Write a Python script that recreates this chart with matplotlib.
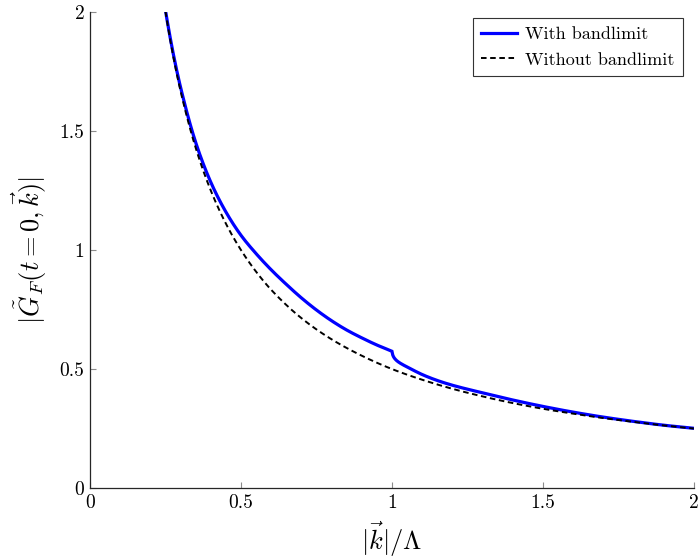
import numpy as np
import matplotlib
matplotlib.use("Agg")
import matplotlib.pyplot as plt

plt.rcParams["font.family"] = "serif"
plt.rcParams["font.serif"] = ["cmr10"]
plt.rcParams["mathtext.fontset"] = "cm"
plt.rcParams["axes.formatter.use_mathtext"] = True
plt.rcParams["lines.scale_dashes"] = False

# |k|/Lambda and propagator magnitude with the bandlimit (below and above the cutoff)
k_below = [0.245, 0.25, 0.275, 0.30, 0.35, 0.40, 0.45, 0.50, 0.55, 0.60, 0.65,
           0.70, 0.75, 0.80, 0.85, 0.90, 0.95, 1.00]
g_below = [2.045, 2.005, 1.829, 1.683, 1.452, 1.285, 1.160, 1.062, 0.985, 0.917, 0.856,
           0.799, 0.748, 0.703, 0.664, 0.631, 0.601, 0.575]
k_above = [1.00, 1.002, 1.006, 1.012, 1.02, 1.035, 1.05, 1.10, 1.15, 1.20, 1.30,
           1.40, 1.50, 1.60, 1.70, 1.80, 1.90, 2.00]
g_above = [0.575, 0.562, 0.550, 0.540, 0.531, 0.519, 0.509, 0.477, 0.452, 0.432, 0.400,
           0.370, 0.343, 0.319, 0.298, 0.280, 0.264, 0.251]

# without the bandlimit
k_free = [0.245, 0.25, 0.275, 0.30, 0.35, 0.40, 0.45, 0.50, 0.55, 0.60, 0.70,
          0.80, 0.90, 1.00, 1.10, 1.20, 1.30, 1.40, 1.50, 1.60, 1.70, 1.80,
          1.90, 2.00]
g_free = [2.041, 2.0, 1.818, 1.667, 1.429, 1.25, 1.111, 1.0, 0.909, 0.833, 0.714,
          0.625, 0.556, 0.5, 0.455, 0.417, 0.385, 0.357, 0.333, 0.3125, 0.294, 0.278,
          0.263, 0.25]

xticks = [0, 0.5, 1, 1.5, 2]
xtick_labels = ["0", "0.5", "1", "1.5", "2"]
yticks = [0, 0.5, 1, 1.5, 2]
ytick_labels = ["0", "0.5", "1", "1.5", "2"]


def pchip(xs, ys, n=30):
    """monotone cubic through the points so the curve has no corners"""
    x = np.asarray(xs, float)
    y = np.asarray(ys, float)
    h = np.diff(x)
    d = np.diff(y) / h
    m = np.zeros_like(x)
    m[0], m[-1] = d[0], d[-1]
    for i in range(1, len(x) - 1):
        if d[i - 1] * d[i] > 0:
            w1 = 2 * h[i] + h[i - 1]
            w2 = h[i] + 2 * h[i - 1]
            m[i] = (w1 + w2) / (w1 / d[i - 1] + w2 / d[i])
    px, py = [], []
    for i in range(len(x) - 1):
        t = np.linspace(0, 1, n, endpoint=False)
        h00 = 2 * t**3 - 3 * t**2 + 1
        h10 = t**3 - 2 * t**2 + t
        h01 = -2 * t**3 + 3 * t**2
        h11 = t**3 - t**2
        px.append(x[i] + t * h[i])
        py.append(h00 * y[i] + h10 * h[i] * m[i] + h01 * y[i + 1] + h11 * h[i] * m[i + 1])
    px.append([x[-1]])
    py.append([y[-1]])
    return np.concatenate(px), np.concatenate(py)


xb, yb = pchip(k_below, g_below)
xa, ya = pchip(k_above, g_above)
xf, yf = pchip(k_free, g_free)

fig = plt.figure(figsize=(6.98, 5.58), dpi=100)
ax = fig.add_axes([0.129, 0.1254, 0.865, 0.853])

ax.plot(np.concatenate([xb, xa]), np.concatenate([yb, ya]), color=(0, 0, 1), lw=2.3,
        solid_joinstyle="miter", label="With bandlimit", zorder=2)
ax.plot(xf, yf, color="k", lw=1.4, linestyle=(0, (4, 2.6)),
        label="Without bandlimit", zorder=3)

ax.set_xlim(0, 2)
ax.set_ylim(0, 2)
ax.set_xticks(xticks)
ax.set_xticklabels(xtick_labels)
ax.set_yticks(yticks)
ax.set_yticklabels(ytick_labels)
ax.tick_params(direction="in", length=4.5, width=0.8, color="0.55",
               labelsize=14, pad=4)

for side in ["top", "right"]:
    ax.spines[side].set_visible(False)
for side in ["left", "bottom"]:
    ax.spines[side].set_color("0.15")
    ax.spines[side].set_linewidth(0.9)

ax.set_xlabel(r"$|\vec{k}|/\Lambda$", fontsize=19, labelpad=6)
ax.set_ylabel(r"$|\tilde{G}_F(t=0,\vec{k})|$", fontsize=19, labelpad=8)

leg = ax.legend(loc="upper right", bbox_to_anchor=(0.982, 0.987),
                borderaxespad=0, fontsize=13, fancybox=False, framealpha=1,
                edgecolor="0.2", handlelength=2.0, handletextpad=0.45,
                borderpad=0.45, labelspacing=0.55)
leg.get_frame().set_linewidth(0.8)

fig.savefig("out.png", dpi=100)
